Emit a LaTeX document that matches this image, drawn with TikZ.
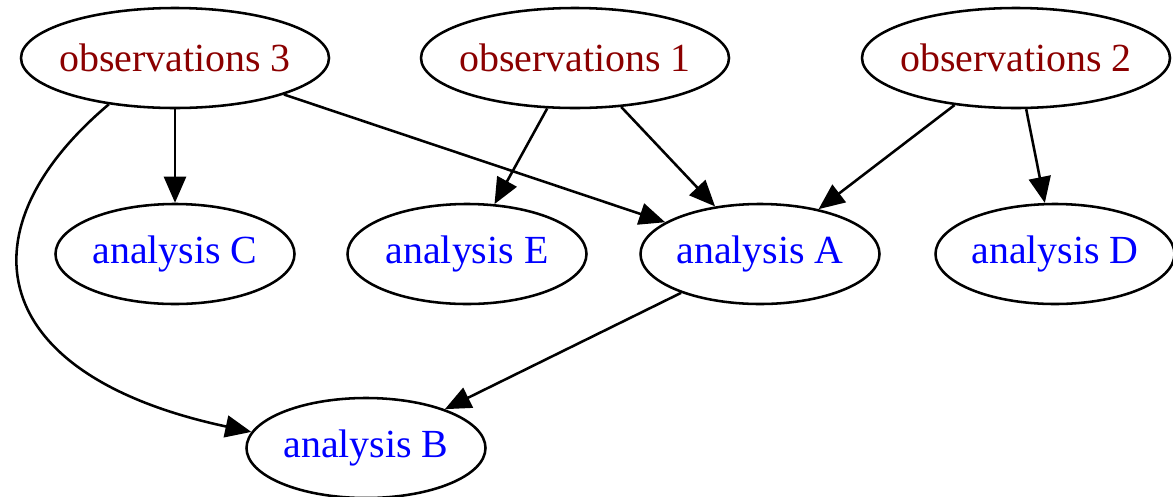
\documentclass[tikz,border=0pt]{standalone}
\usepackage{fontspec}
\setmainfont{Liberation Serif}
\usepackage{xcolor}
\usetikzlibrary{arrows.meta, shapes.geometric}

\definecolor{obsred}{RGB}{139,0,0}
\definecolor{anablue}{RGB}{0,0,255}

\begin{document}
\begin{tikzpicture}[
  font=\fontsize{22.7}{27}\selectfont,
  >={Triangle[length=0.52cm, width=0.44cm]},
  obs/.style={
    draw, ellipse, line width=1.45pt, inner ysep=0pt, inner xsep=-0.4cm,
    minimum width=6.16cm, minimum height=2.0cm, text=obsred
  },
  ana/.style={
    draw, ellipse, line width=1.45pt, inner ysep=0pt, inner xsep=-0.2cm,
    minimum width=4.78cm, minimum height=2.0cm, text=anablue
  },
  arr/.style={->, line width=1.45pt, draw=black}
]
  \useasboundingbox (0,0) rectangle (23.46,-9.92);

  \node[obs] (obs3) at (3.5,-1.16) {observations 3};
  \node[obs] (obs1) at (11.5,-1.16) {observations 1};
  \node[obs] (obs2) at (20.32,-1.16) {observations 2};

  \node[ana] (anC) at (3.5,-5.08) {analysis C};
  \node[ana] (anE) at (9.34,-5.08) {analysis E};
  \node[ana] (anA) at (15.2,-5.08) {analysis A};
  \node[ana] (anD) at (21.1,-5.08) {analysis D};
  \node[ana] (anB) at (7.32,-8.96) {analysis B};

  \draw[arr] (obs3) -- (anC);
  \draw[arr] (obs3) -- (anA);
  \draw[arr] (obs3.215) .. controls (-0.8,-4.6) and (-0.3,-7.5) .. (anB.172);
  \draw[arr] (obs1) -- (anE);
  \draw[arr] (obs1) -- (anA);
  \draw[arr] (obs2) -- (anA);
  \draw[arr] (obs2) -- (anD);
  \draw[arr] (anA) -- (anB);
\end{tikzpicture}
\end{document}
